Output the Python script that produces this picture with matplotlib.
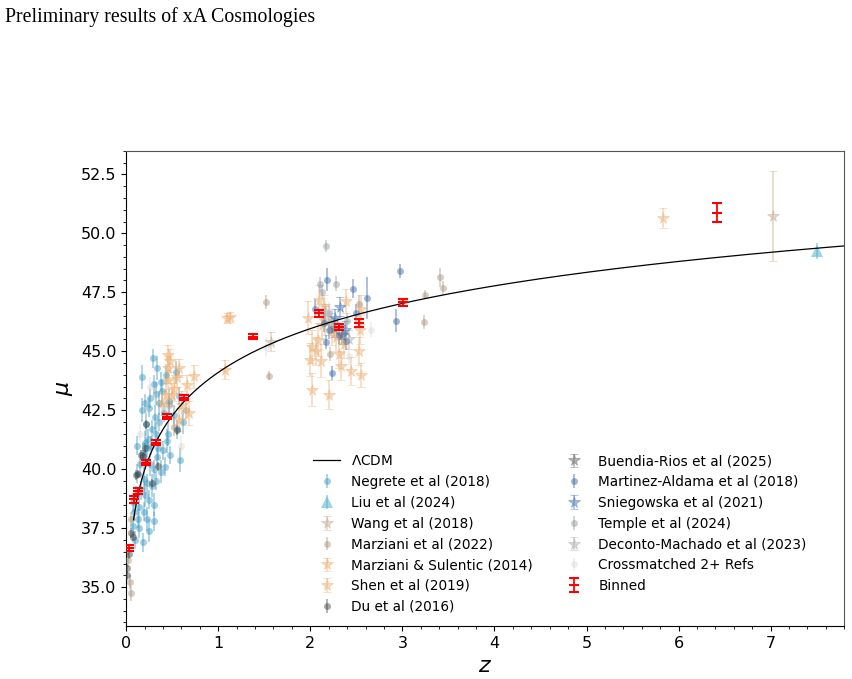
import numpy as np
import matplotlib
matplotlib.use("Agg")
import matplotlib.pyplot as plt
from matplotlib.ticker import AutoMinorLocator, MultipleLocator

# ---------------- data ----------------
# Flat LCDM model parameters
H0 = 70.0
Om = 0.3

negrete_z = [0.29, 0.34, 0.17, 0.30, 0.32, 0.26, 0.39, 0.17, 0.25, 0.31, 0.36, 0.22, 0.28, 0.33, 0.24,
             0.20, 0.27, 0.35, 0.40, 0.45, 0.48, 0.59, 0.18, 0.21, 0.26, 0.30, 0.38, 0.42, 0.15, 0.12,
             0.19, 0.23, 0.28, 0.33, 0.16, 0.21, 0.25, 0.11, 0.14, 0.19, 0.30, 0.09, 0.13, 0.23, 0.30,
             0.14, 0.25, 0.18, 0.08, 0.10, 0.36, 0.41, 0.47, 0.52, 0.62, 0.55, 0.44, 0.38, 0.20, 0.23,
             0.54, 0.57, 0.43, 0.07, 0.34, 0.12]
negrete_mu = [44.7, 44.3, 43.9, 43.6, 43.2, 43.0, 43.3, 42.5, 42.6, 42.2, 42.0, 41.9, 41.7, 41.5, 41.3,
              41.1, 41.0, 40.9, 40.8, 41.5, 40.6, 40.4, 40.7, 40.4, 40.2, 40.0, 39.9, 40.1, 40.2, 39.8,
              39.6, 39.4, 39.3, 39.5, 39.1, 38.9, 38.7, 38.9, 38.4, 38.2, 38.5, 38.2, 37.9, 37.9, 37.8,
              37.5, 37.4, 36.9, 37.6, 37.0, 42.8, 42.4, 42.9, 42.3, 42.0, 41.7, 41.2, 43.7, 42.8, 40.9,
              44.1, 43.1, 44.0, 38.6, 40.5, 41.0]
negrete_err = [0.4, 0.5, 0.5, 0.4, 0.5, 0.4, 0.5, 0.5, 0.4, 0.5, 0.4, 0.5, 0.4, 0.5, 0.4,
               0.5, 0.4, 0.5, 0.4, 0.5, 0.4, 0.5, 0.4, 0.4, 0.5, 0.4, 0.5, 0.4, 0.5, 0.4,
               0.5, 0.4, 0.5, 0.4, 0.4, 0.5, 0.4, 0.4, 0.5, 0.4, 0.5, 0.4, 0.4, 0.5, 0.4,
               0.4, 0.5, 0.4, 0.4, 0.4, 0.5, 0.4, 0.5, 0.4, 0.5, 0.4, 0.5, 0.4, 0.4, 0.4,
               0.5, 0.4, 0.4, 0.4, 0.4, 0.4]

liu_z = [7.50]
liu_mu = [49.25]
liu_err = [0.35]

wang_z = [7.02, 1.57, 2.16]
wang_mu = [50.72, 45.4, 46.3]
wang_err = [1.9, 0.4, 0.6]

marz22_z = [0.05, 0.02, 0.05, 0.04, 0.65, 0.47, 0.52, 1.52, 1.55, 3.25, 3.41, 3.44, 3.24, 2.53, 2.21]
marz22_mu = [34.73, 36.15, 37.9, 35.2, 42.52, 42.7, 41.8, 47.1, 43.96, 47.4, 48.14, 47.69, 46.23, 47.0, 44.9]
marz22_err = [0.3, 0.3, 0.3, 0.3, 0.4, 0.4, 0.4, 0.3, 0.2, 0.2, 0.4, 0.3, 0.3, 0.4, 0.3]

ms14_z = [0.45, 0.46, 0.57, 0.74, 0.46, 0.43, 0.66, 0.50, 0.61, 0.68, 0.57, 0.39, 1.10, 1.13, 1.07,
          0.55, 0.48, 0.52]
ms14_mu = [44.86, 44.29, 44.29, 43.93, 43.79, 43.16, 43.58, 43.16, 42.73, 42.38, 42.1, 42.8, 46.41, 46.45,
           44.22, 43.9, 44.6, 43.4]
ms14_err = [0.4, 0.5, 0.4, 0.5, 0.4, 0.5, 0.4, 0.5, 0.6, 0.5, 0.5, 0.5, 0.2, 0.2, 0.4, 0.4, 0.5, 0.5]

shen_z = [5.83, 2.09, 2.02, 2.20, 2.33, 2.55, 2.44, 2.53, 2.00, 2.31, 2.02, 2.24, 2.39, 2.54, 1.98,
          2.13, 2.08, 2.55, 2.06, 2.15, 2.28, 2.12, 2.37]
shen_mu = [50.64, 47.19, 43.37, 43.16, 44.39, 44.0, 44.15, 45.0, 44.64, 44.9, 45.2, 45.85, 47.12, 45.92,
           46.41, 46.13, 45.49, 46.77, 45.0, 46.9, 45.6, 44.6, 45.3]
shen_err = [0.42, 0.6, 0.7, 0.6, 0.6, 0.5, 0.6, 0.6, 0.7, 0.6, 0.7, 0.6, 0.5, 0.6, 0.7,
            0.6, 0.7, 0.6, 0.6, 0.5, 0.6, 0.7, 0.6]

du_z = [0.01, 0.08, 0.13, 0.18, 0.28, 0.35, 0.55, 0.01, 0.11, 0.16, 0.22, 0.05, 0.03, 0.20]
du_mu = [35.5, 37.14, 39.8, 40.54, 39.4, 40.12, 41.67, 35.8, 39.75, 40.6, 41.9, 37.3, 36.4, 40.9]
du_err = [0.2, 0.2, 0.15, 0.2, 0.2, 0.2, 0.2, 0.2, 0.2, 0.2, 0.2, 0.2, 0.2, 0.2]

buendia_z = [2.35, 2.26]
buendia_mu = [45.7, 46.0]
buendia_err = [0.4, 0.4]

martinez_z = [2.97, 2.93, 2.18, 2.46, 2.62, 2.05, 2.17, 2.24, 2.39, 2.15, 2.20, 2.31, 2.50]
martinez_mu = [48.39, 46.3, 48.04, 47.65, 47.26, 46.8, 45.38, 44.08, 45.45, 46.2, 45.9, 45.7, 46.6]
martinez_err = [0.3, 0.5, 0.5, 0.4, 0.9, 0.4, 0.3, 0.3, 0.4, 0.4, 0.4, 0.4, 0.4]

snieg_z = [2.32, 2.27, 2.38]
snieg_mu = [46.88, 46.4, 45.9]
snieg_err = [0.4, 0.4, 0.4]

temple_z = [2.17, 2.28, 2.11, 2.13, 2.20, 2.40]
temple_mu = [49.46, 47.87, 47.83, 47.5, 46.6, 46.3]
temple_err = [0.25, 0.3, 0.3, 0.3, 0.3, 0.3]

deconto_z = [2.22, 2.42, 2.16]
deconto_mu = [46.2, 45.5, 46.6]
deconto_err = [0.4, 0.4, 0.4]

cross_z = [2.66, 2.42, 0.22, 0.30, 0.15, 0.42, 1.52, 0.35, 0.60, 2.20, 2.50, 0.26]
cross_mu = [45.92, 44.8, 42.5, 43.1, 41.5, 42.6, 45.2, 41.9, 41.0, 46.7, 46.4, 43.5]
cross_err = [0.3, 0.4, 0.4, 0.4, 0.4, 0.4, 0.4, 0.4, 0.4, 0.4, 0.4, 0.4]

bin_z = [0.03, 0.09, 0.13, 0.215, 0.32, 0.44, 0.63, 1.38, 2.10, 2.31, 2.53, 3.01, 6.42]
bin_mu = [36.66, 38.73, 39.08, 40.27, 41.12, 42.22, 43.03, 45.62, 46.60, 46.03, 46.20, 47.08, 50.87]
bin_err = [0.12, 0.15, 0.12, 0.10, 0.10, 0.10, 0.10, 0.10, 0.13, 0.12, 0.18, 0.15, 0.41]

# ---------------- model curve ----------------
c_kms = 299792.458
zg = np.linspace(0.0, 7.8, 4000)
Ez = np.sqrt(Om * (1 + zg) ** 3 + (1 - Om))
integ = np.concatenate([[0.0], np.cumsum(0.5 * (1 / Ez[1:] + 1 / Ez[:-1]) * np.diff(zg))])
dL = (1 + zg) * c_kms / H0 * integ  # Mpc
mask = zg >= 0.08
mu_model = 5 * np.log10(dL[mask] * 1e6 / 10.0)

# ---------------- plot ----------------
fig = plt.figure(figsize=(8.52, 6.79), dpi=100)
ax = fig.add_axes([0.148, 0.078, 0.843, 0.700])

ax.plot(zg[mask], mu_model, color="black", lw=0.9, label=r"$\Lambda$CDM", zorder=5)

series = [
    (negrete_z, negrete_mu, negrete_err, "Negrete et al (2018)", "#2f93bf", "o", 5, 0.45),
    (liu_z, liu_mu, liu_err, "Liu et al (2024)", "#52b2d0", "^", 8, 0.55),
    (wang_z, wang_mu, wang_err, "Wang et al (2018)", "#c0a88c", "*", 8.5, 0.45),
    (marz22_z, marz22_mu, marz22_err, "Marziani et al (2022)", "#a88e74", "o", 5, 0.45),
    (ms14_z, ms14_mu, ms14_err, "Marziani & Sulentic (2014)", "#f2b070", "*", 8.5, 0.5),
    (shen_z, shen_mu, shen_err, "Shen et al (2019)", "#eeb47c", "*", 8.5, 0.5),
    (du_z, du_mu, du_err, "Du et al (2016)", "#3c3c3c", "o", 5, 0.45),
    (buendia_z, buendia_mu, buendia_err, "Buendia-Rios et al (2025)", "#6a6a6a", "*", 8.5, 0.5),
    (martinez_z, martinez_mu, martinez_err, "Martinez-Aldama et al (2018)", "#2d5fa0", "o", 5, 0.45),
    (snieg_z, snieg_mu, snieg_err, "Sniegowska et al (2021)", "#4a7cc0", "*", 8.5, 0.5),
    (temple_z, temple_mu, temple_err, "Temple et al (2024)", "#8c9696", "o", 5, 0.45),
    (deconto_z, deconto_mu, deconto_err, "Deconto-Machado et al (2023)", "#a3aab2", "*", 8.5, 0.45),
    (cross_z, cross_mu, cross_err, "Crossmatched 2+ Refs", "#d0d0d0", "o", 5, 0.35),
]
for z, mu, err, lab, col, mk, ms, a in series:
    mew = 0.6 if mk == "*" else 0
    ax.errorbar(z, mu, yerr=err, fmt=mk, color=col, ms=ms, alpha=a, capsize=3,
                elinewidth=1.2, capthick=0.8, markeredgewidth=mew, label=lab, zorder=3)

ax.errorbar(bin_z, bin_mu, yerr=bin_err, fmt="_", color="red", ms=7, mew=1.5,
            capsize=3.5, elinewidth=1.3, capthick=1.3, label="Binned", zorder=6)

ax.set_xlim(0, 7.8)
ax.set_ylim(33.35, 53.5)
ax.xaxis.set_major_locator(MultipleLocator(1))
ax.yaxis.set_major_locator(MultipleLocator(2.5))
ax.xaxis.set_minor_locator(AutoMinorLocator(5))
ax.yaxis.set_minor_locator(AutoMinorLocator(5))
ax.tick_params(which="both", labelsize=11.5)
ax.yaxis.set_major_formatter(matplotlib.ticker.FormatStrFormatter("%.1f"))
ax.spines["top"].set_color("#555555")
ax.spines["right"].set_color("#555555")

ax.set_xlabel(r"$z$", fontsize=16)
ax.set_ylabel(r"$\mu$", fontsize=16)

ax.legend(ncol=2, frameon=False, fontsize=9.8, loc="lower left",
          bbox_to_anchor=(0.2435, 0.0))

fig.text(0.006, 0.989, "Preliminary results of xA Cosmologies", family="Liberation Serif",
         fontsize=14.3, va="top", ha="left")

fig.savefig("out.png", dpi=100)
